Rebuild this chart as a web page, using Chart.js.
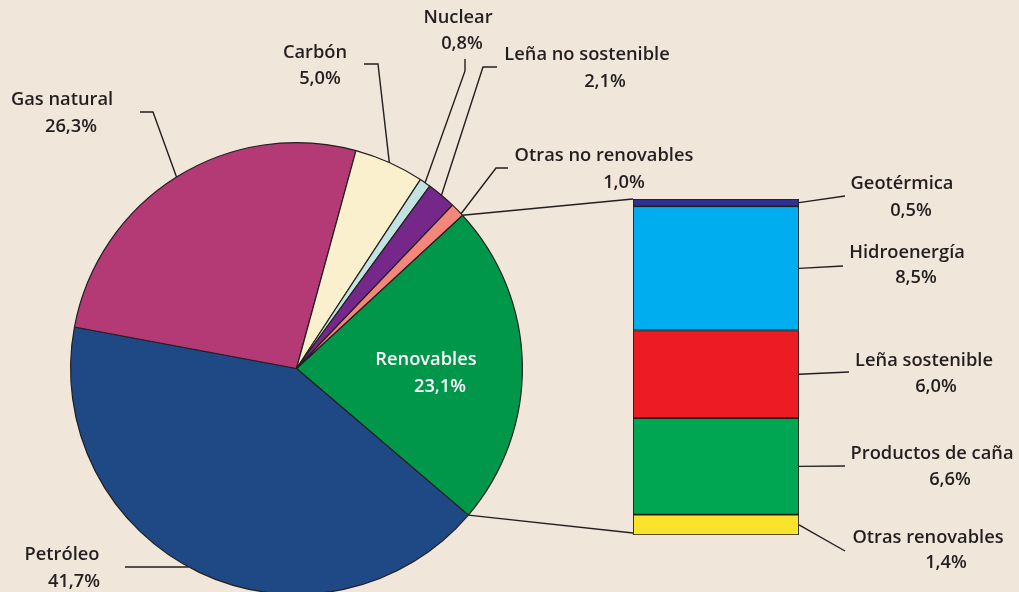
<!DOCTYPE html>
<html lang="es">
<head>
<meta charset="UTF-8" />
<title>Oferta total de energía</title>
<script src="https://cdn.jsdelivr.net/npm/chart.js"></script>
<style>
  body { margin: 0; background: #f0e6d9; font-family: "Open Sans", sans-serif; }
  #wrap { position: relative; width: 1019px; height: 592px; overflow: hidden; background: #f0e6d9; }
  #wrap canvas { position: absolute; left: 0; top: 0; }
</style>
</head>
<body>
<div id="wrap">
  <canvas id="pieChart" width="1019" height="600"></canvas>
  <canvas id="barChart" width="1019" height="592"></canvas>
</div>
<script>
// pie: total supply (clockwise from the Renovables slice)
const pieLabels = ["Renovables", "Petróleo", "Gas natural", "Carbón", "Nuclear", "Leña no sostenible", "Otras no renovables"];
const pieValues = [23.1, 41.7, 26.3, 5.0, 0.8, 2.1, 1.0];
const pieColors = ["#00974a", "#1f4985", "#b33a74", "#faf0cd", "#c2e3e1", "#76288a", "#f3887a"];

// stacked bar: breakdown of Renovables (bottom to top)
const renewLabels = ["Otras renovables", "Productos de caña", "Leña sostenible", "Hidroenergía", "Geotérmica"];
const renewValues = [1.4, 6.6, 6.0, 8.5, 0.5];
const renewColors = ["#f9e32b", "#00a651", "#ed1c24", "#00aeef", "#2e3192"];

const INK = "#231f20";
const FONT = "600 18.3px 'Open Sans'";

// label placement: two text lines + leader points, anchor fraction along arc
const pieLabelPos = [
  { text: [[426, 360], [440, 387]], color: "#ffffff", leader: null },
  { text: [[62, 555], [74, 582]], leader: [[125, 567]], frac: 0.52 },
  { text: [[62, 100], [71, 127]], leader: [[140, 112], [153, 112]], frac: 0.5 },
  { text: [[315, 53], [320, 79]], leader: [[364, 64], [378, 64]], frac: 0.5 },
  { text: [[458, 18], [462, 44]], leader: [[465, 59], [465, 71]], frac: 0.5 },
  { text: [[587, 55], [605, 82]], leader: [[497, 67], [483, 67]], frac: 0.5 },
  { text: [[604, 156], [624, 183]], leader: [[508, 168], [496, 168]], frac: 0.85 }
];
const barLabelPos = [
  { text: [[928, 538], [946, 563]], leader: [[845, 551]] },
  { text: [[932, 454], [950, 480]], leader: [[845, 466]] },
  { text: [[924, 361], [936, 387]], leader: [[849, 372]] },
  { text: [[907, 253], [916, 278]], leader: [[843, 266]] },
  { text: [[902, 184], [911, 211]], leader: [[845, 196]] }
];

function pct(v) {
  return v.toFixed(1).replace(".", ",") + "%";
}

function drawText(ctx, name, value, pos, color) {
  ctx.fillStyle = color || INK;
  ctx.font = FONT;
  ctx.textAlign = "center";
  ctx.textBaseline = "middle";
  ctx.fillText(name, pos[0][0], pos[0][1]);
  ctx.fillText(pct(value), pos[1][0], pos[1][1]);
}

function drawLine(ctx, pts) {
  ctx.beginPath();
  ctx.moveTo(pts[0][0], pts[0][1]);
  for (let i = 1; i < pts.length; i++) ctx.lineTo(pts[i][0], pts[i][1]);
  ctx.stroke();
}

function arcPoint(arc, angle) {
  return [arc.x + arc.outerRadius * Math.cos(angle), arc.y + arc.outerRadius * Math.sin(angle)];
}

const pieChart = new Chart(document.getElementById("pieChart"), {
  type: "pie",
  data: {
    labels: pieLabels,
    datasets: [{
      data: pieValues,
      backgroundColor: pieColors,
      borderColor: INK,
      borderWidth: 1.2
    }]
  },
  options: {
    responsive: false,
    animation: false,
    events: [],
    rotation: 47.3,
    layout: { padding: { left: 70, right: 496, top: 142, bottom: 5 } },
    plugins: { legend: { display: false }, tooltip: { enabled: false } }
  }
});

// overlay plugin: leader lines, connector lines and all labels
const calloutPlugin = {
  id: "callouts",
  afterDraw(chart) {
    const ctx = chart.ctx;
    const arcs = pieChart.getDatasetMeta(0).data;
    ctx.save();
    ctx.strokeStyle = INK;
    ctx.lineWidth = 1.4;

    // connectors from the Renovables slice to the bar
    const ren = arcs[0];
    const bottomBar = chart.getDatasetMeta(0).data[0];
    const topBar = chart.getDatasetMeta(renewValues.length - 1).data[0];
    const barLeft = topBar.x - topBar.width / 2;
    const barRight = topBar.x + topBar.width / 2;
    drawLine(ctx, [arcPoint(ren, ren.startAngle), [barLeft, topBar.y]]);
    drawLine(ctx, [arcPoint(ren, ren.endAngle), [barLeft, bottomBar.base - 2]]);

    pieLabelPos.forEach((p, i) => {
      const arc = arcs[i];
      if (p.leader) {
        const a = arc.startAngle + (arc.endAngle - arc.startAngle) * p.frac;
        drawLine(ctx, p.leader.concat([arcPoint(arc, a)]));
      }
      drawText(ctx, pieLabels[i], pieValues[i], p.text, p.color);
    });

    barLabelPos.forEach((p, i) => {
      const el = chart.getDatasetMeta(i).data[0];
      const midY = (el.y + el.base) / 2;
      drawLine(ctx, [[barRight, midY]].concat(p.leader));
      drawText(ctx, renewLabels[i], renewValues[i], p.text);
    });
    ctx.restore();
  }
};

const barChart = new Chart(document.getElementById("barChart"), {
  type: "bar",
  data: {
    labels: ["Renovables"],
    datasets: renewLabels.map((name, i) => ({
      label: name,
      data: [renewValues[i]],
      backgroundColor: renewColors[i],
      borderColor: INK,
      borderWidth: 1.2,
      borderSkipped: false,
      barPercentage: 1,
      categoryPercentage: 1
    }))
  },
  options: {
    responsive: false,
    animation: false,
    events: [],
    layout: { padding: { left: 633, right: 220, top: 199, bottom: 57 } },
    scales: {
      x: { display: false, stacked: true },
      y: { display: false, stacked: true, min: 0, max: 23 }
    },
    plugins: { legend: { display: false }, tooltip: { enabled: false } }
  },
  plugins: [calloutPlugin]
});
</script>
</body>
</html>
